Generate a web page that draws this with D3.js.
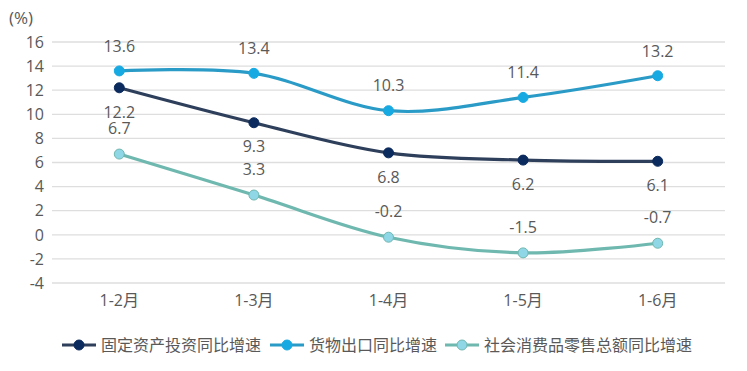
<!DOCTYPE html>
<html>
<head>
<meta charset="utf-8">
<script src="https://cdn.jsdelivr.net/npm/d3@7"></script>
<style>
  body { margin: 0; background: #fff; }
  svg text { font-family: "Open Sans", "Noto Sans CJK SC", sans-serif; fill: #595959; }
</style>
</head>
<body>
<svg id="chart" width="747" height="371"></svg>
<script>
// data
var months = ['1-2月', '1-3月', '1-4月', '1-5月', '1-6月']
var fixedInvest = [12.2, 9.3, 6.8, 6.2, 6.1]
var exportGrowth = [13.6, 13.4, 10.3, 11.4, 13.2]
var retailSales = [6.7, 3.3, -0.2, -1.5, -0.7]
var yTicks = [-4, -2, 0, 2, 4, 6, 8, 10, 12, 14, 16]

var series = [
  { name: '固定资产投资同比增速', values: fixedInvest, line: '#2e3f5b', fill: '#0b2a5e', stroke: '#0b2a5e', labelDy: 24 },
  { name: '货物出口同比增速', values: exportGrowth, line: '#2a9bc6', fill: '#17aae2', stroke: '#17aae2', labelDy: -25 },
  { name: '社会消费品零售总额同比增速', values: retailSales, line: '#6fb8b0', fill: '#8fd6e6', stroke: '#6fb8b0', labelDy: -26 }
]

var svg = d3.select('#chart')
var plotLeft = 52, plotRight = 725, plotTop = 42, plotBottom = 283

var x = d3.scaleBand().domain(months).range([plotLeft, plotRight])
var y = d3.scaleLinear().domain([-4, 16]).range([plotBottom, plotTop])

// grid lines
svg.append('g')
  .selectAll('line')
  .data(yTicks)
  .join('line')
  .attr('x1', plotLeft)
  .attr('x2', plotRight)
  .attr('y1', function(d) { return y(d) })
  .attr('y2', function(d) { return y(d) })
  .attr('stroke', '#dedede')
  .attr('stroke-width', 1.3)

// y axis labels
svg.append('g')
  .selectAll('text')
  .data(yTicks)
  .join('text')
  .attr('x', 44)
  .attr('y', function(d) { return y(d) })
  .attr('dy', '0.36em')
  .attr('text-anchor', 'end')
  .attr('font-size', 16)
  .text(function(d) { return d })

svg.append('text')
  .attr('x', 9)
  .attr('y', 24)
  .attr('font-size', 17)
  .text('(%)')

// x axis labels
svg.append('g')
  .selectAll('text')
  .data(months)
  .join('text')
  .attr('x', function(d) { return x(d) + x.bandwidth() / 2 })
  .attr('y', 306)
  .attr('text-anchor', 'middle')
  .attr('font-size', 16)
  .text(function(d) { return d })

var line = d3.line()
  .x(function(d, i) { return x(months[i]) + x.bandwidth() / 2 })
  .y(function(d) { return y(d) })
  .curve(d3.curveCatmullRom.alpha(0))

series.forEach(function(s) {
  svg.append('path')
    .attr('d', line(s.values))
    .attr('fill', 'none')
    .attr('stroke', s.line)
    .attr('stroke-width', 3.2)
    .attr('stroke-linecap', 'round')
})

series.forEach(function(s) {
  var g = svg.append('g')
  g.selectAll('circle')
    .data(s.values)
    .join('circle')
    .attr('cx', function(d, i) { return x(months[i]) + x.bandwidth() / 2 })
    .attr('cy', function(d) { return y(d) })
    .attr('r', 5)
    .attr('fill', s.fill)
    .attr('stroke', s.stroke)
    .attr('stroke-width', 1)
  g.selectAll('text')
    .data(s.values)
    .join('text')
    .attr('x', function(d, i) { return x(months[i]) + x.bandwidth() / 2 })
    .attr('y', function(d) { return y(d) + s.labelDy })
    .attr('dy', '0.36em')
    .attr('text-anchor', 'middle')
    .attr('font-size', 16)
    .text(function(d) { return d.toFixed(1) })
})

// legend
var legendX = [62, 270, 445]
series.forEach(function(s, i) {
  var g = svg.append('g').attr('transform', 'translate(' + legendX[i] + ',345)')
  g.append('line')
    .attr('x1', 0).attr('x2', 34)
    .attr('stroke', s.line)
    .attr('stroke-width', 3.2)
  g.append('circle')
    .attr('cx', 17)
    .attr('r', 5)
    .attr('fill', s.fill)
    .attr('stroke', s.stroke)
  g.append('text')
    .attr('x', 39)
    .attr('dy', '0.36em')
    .attr('font-size', 16)
    .attr('font-family', '"Noto Sans CJK SC", sans-serif')
    .text(s.name)
})
</script>
</body>
</html>
